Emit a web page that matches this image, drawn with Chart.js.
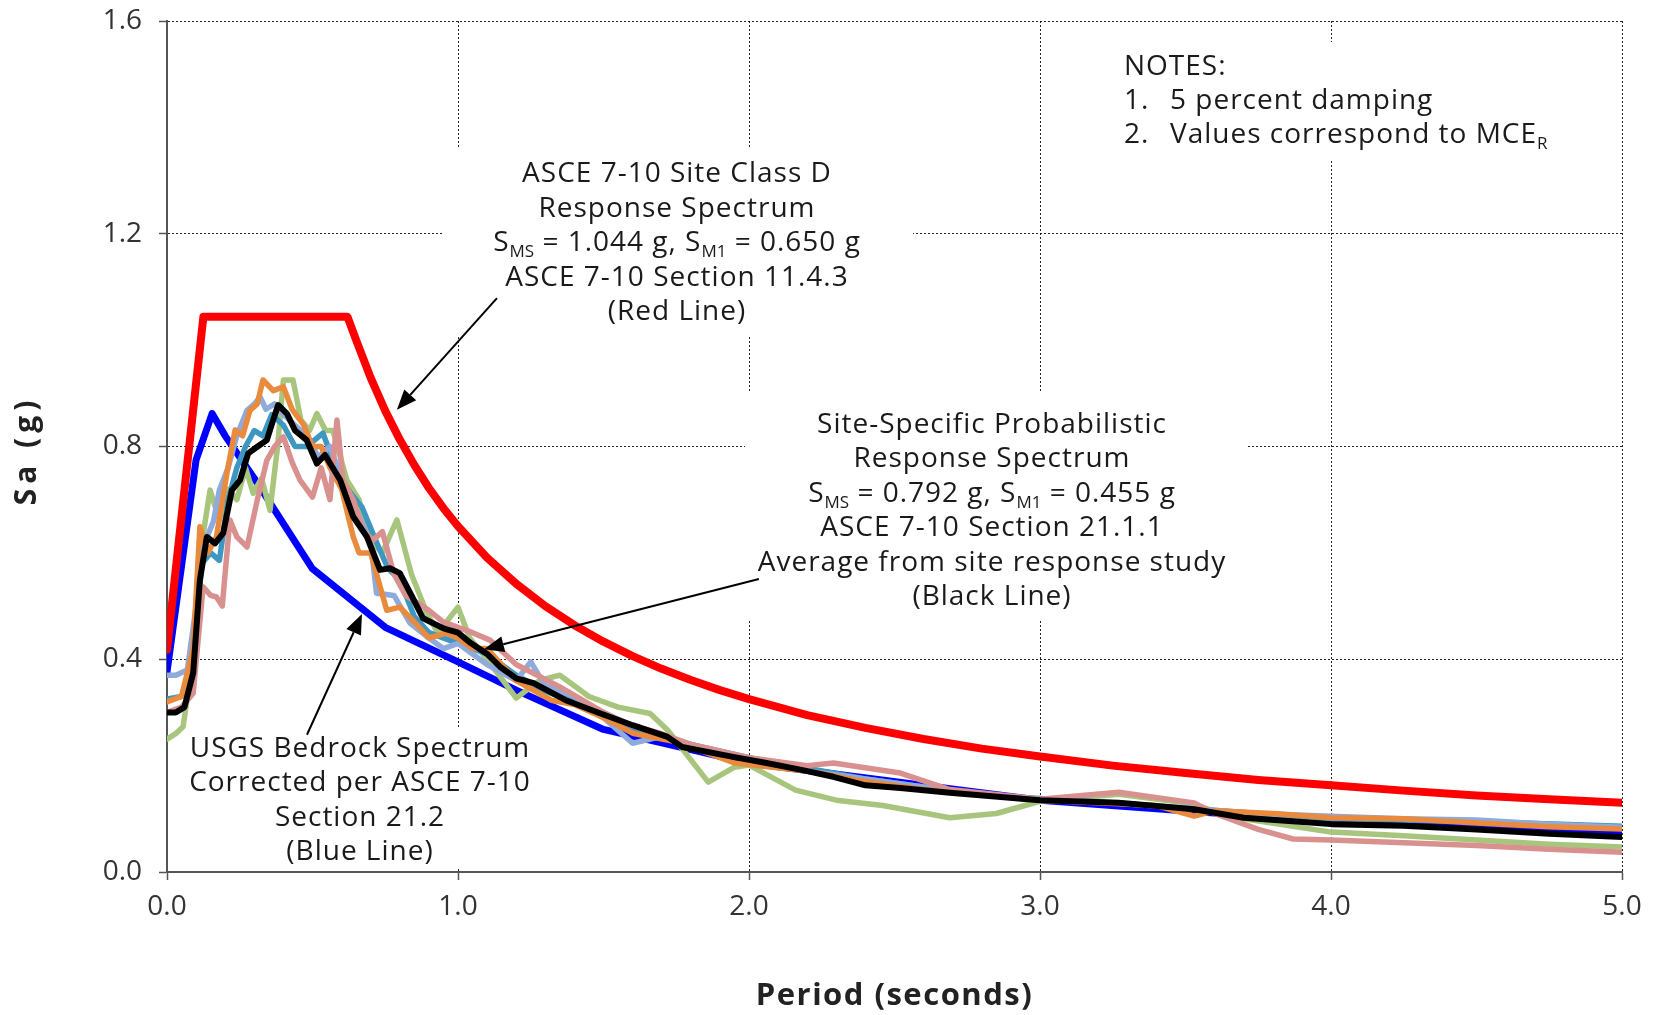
<!DOCTYPE html>
<html>
<head>
<meta charset="utf-8">
<script src="https://cdn.jsdelivr.net/npm/chart.js@4.4.1/dist/chart.umd.min.js"></script>
<style>
body{margin:0;background:#fff;}
#wrap{width:1658px;height:1015px;}
</style>
</head>
<body>
<div id="wrap"><canvas id="spectrumChart" width="1658" height="1015"></canvas></div>
<script>
/* DATA */
const xTicks = [0, 1, 2, 3, 4, 5];
const yTicks = [0, 0.4, 0.8, 1.2, 1.6];

// ASCE 7-10 site class D (red)
const redPeriod = [0, 0.125, 0.62, 0.65, 0.7, 0.75, 0.8, 0.85, 0.9, 0.95, 1.0, 1.1, 1.2, 1.3, 1.4, 1.5, 1.6, 1.7, 1.8, 1.9, 2.0, 2.2, 2.4, 2.6, 2.8, 3.0, 3.25, 3.5, 3.75, 4.0, 4.25, 4.5, 4.75, 5.0];
const redSa = [0.418, 1.044, 1.044, 1.0, 0.929, 0.867, 0.813, 0.765, 0.722, 0.684, 0.65, 0.591, 0.542, 0.5, 0.464, 0.433, 0.406, 0.382, 0.361, 0.342, 0.325, 0.295, 0.271, 0.25, 0.232, 0.217, 0.2, 0.186, 0.173, 0.163, 0.153, 0.144, 0.137, 0.13];

// USGS bedrock (blue)
const bluePeriod = [0, 0.1, 0.155, 0.2, 0.3, 0.5, 0.75, 1.0, 1.2, 1.5, 2.0, 3.0, 4.0, 5.0];
const blueSa = [0.376, 0.775, 0.862, 0.82, 0.74, 0.57, 0.46, 0.395, 0.342, 0.268, 0.205, 0.135, 0.095, 0.075];

// site response average (black)
const avgPeriod = [0, 0.03, 0.06, 0.09, 0.113, 0.137, 0.165, 0.193, 0.223, 0.251, 0.279, 0.309, 0.343, 0.365, 0.382, 0.412, 0.44, 0.48, 0.515, 0.543, 0.595, 0.64, 0.687, 0.732, 0.766, 0.8, 0.84, 0.88, 0.95, 1.0, 1.04, 1.1, 1.144, 1.2, 1.26, 1.37, 1.49, 1.6, 1.72, 1.77, 1.95, 2.06, 2.18, 2.29, 2.4, 2.52, 2.69, 3.0, 3.27, 3.53, 3.7, 4.0, 4.25, 4.5, 4.75, 5.0];
const avgSa = [0.3, 0.3, 0.31, 0.374, 0.549, 0.63, 0.618, 0.637, 0.718, 0.737, 0.787, 0.799, 0.812, 0.85, 0.878, 0.862, 0.83, 0.812, 0.768, 0.784, 0.737, 0.668, 0.63, 0.568, 0.571, 0.562, 0.52, 0.477, 0.458, 0.45, 0.432, 0.41, 0.386, 0.364, 0.355, 0.323, 0.298, 0.276, 0.254, 0.235, 0.216, 0.205, 0.192, 0.179, 0.163, 0.158, 0.149, 0.135, 0.13, 0.118, 0.102, 0.09, 0.087, 0.08, 0.072, 0.066];

// individual records
const orangePeriod = [0, 0.05, 0.09, 0.113, 0.14, 0.17, 0.206, 0.234, 0.26, 0.285, 0.31, 0.33, 0.365, 0.4, 0.43, 0.47, 0.5, 0.53, 0.56, 0.6, 0.64, 0.66, 0.7, 0.755, 0.8, 0.85, 0.9, 0.96, 1.0, 1.05, 1.1, 1.2, 1.32, 1.4, 1.5, 1.6, 1.75, 1.95, 2.2, 2.4, 2.6, 2.8, 3.0, 3.2, 3.4, 3.53, 3.6, 3.8, 4.0, 4.25, 4.5, 4.75, 5.0];
const orangeSa = [0.32, 0.33, 0.42, 0.649, 0.6, 0.63, 0.75, 0.831, 0.82, 0.868, 0.88, 0.925, 0.905, 0.912, 0.87, 0.84, 0.8, 0.8, 0.76, 0.72, 0.63, 0.6, 0.6, 0.492, 0.498, 0.47, 0.44, 0.449, 0.44, 0.42, 0.42, 0.36, 0.323, 0.315, 0.29, 0.261, 0.245, 0.205, 0.19, 0.17, 0.155, 0.145, 0.135, 0.13, 0.125, 0.105, 0.115, 0.11, 0.102, 0.1, 0.092, 0.085, 0.081];

const lightBluePeriod = [0, 0.03, 0.07, 0.1, 0.13, 0.16, 0.18, 0.21, 0.24, 0.275, 0.3, 0.32, 0.34, 0.37, 0.4, 0.44, 0.48, 0.52, 0.56, 0.6, 0.65, 0.7, 0.72, 0.78, 0.835, 0.9, 0.95, 1.0, 1.05, 1.1, 1.2, 1.25, 1.3, 1.4, 1.5, 1.6, 1.7, 1.8, 2.0, 2.2, 2.4, 2.6, 2.8, 3.0, 3.25, 3.5, 3.75, 4.0, 4.25, 4.5, 4.75, 5.0];
const lightBlueSa = [0.37, 0.37, 0.38, 0.5, 0.62, 0.66, 0.718, 0.76, 0.82, 0.868, 0.88, 0.893, 0.87, 0.88, 0.86, 0.84, 0.82, 0.78, 0.8, 0.74, 0.68, 0.62, 0.524, 0.52, 0.468, 0.44, 0.42, 0.43, 0.41, 0.39, 0.36, 0.395, 0.35, 0.33, 0.29, 0.242, 0.255, 0.24, 0.21, 0.19, 0.175, 0.16, 0.145, 0.135, 0.13, 0.12, 0.11, 0.105, 0.1, 0.098, 0.09, 0.084];

const tealPeriod = [0, 0.05, 0.09, 0.12, 0.15, 0.18, 0.21, 0.24, 0.27, 0.3, 0.33, 0.36, 0.4, 0.44, 0.48, 0.536, 0.58, 0.62, 0.67, 0.72, 0.76, 0.8, 0.85, 0.9, 1.0, 1.1, 1.2, 1.3, 1.4, 1.5, 1.6, 1.8, 2.0, 2.2, 2.4, 2.6, 2.8, 3.0, 3.25, 3.5, 3.75, 4.0, 4.5, 5.0];
const tealSa = [0.325, 0.33, 0.4, 0.58, 0.6, 0.586, 0.7, 0.76, 0.8, 0.83, 0.82, 0.86, 0.84, 0.8, 0.8, 0.825, 0.76, 0.72, 0.686, 0.62, 0.57, 0.55, 0.48, 0.45, 0.43, 0.41, 0.37, 0.34, 0.32, 0.3, 0.27, 0.24, 0.215, 0.195, 0.175, 0.16, 0.145, 0.138, 0.13, 0.12, 0.11, 0.1, 0.095, 0.086];

const pinkPeriod = [0, 0.05, 0.09, 0.124, 0.15, 0.17, 0.19, 0.216, 0.24, 0.275, 0.31, 0.343, 0.37, 0.4, 0.43, 0.457, 0.5, 0.53, 0.56, 0.584, 0.605, 0.64, 0.675, 0.708, 0.74, 0.78, 0.82, 0.9, 0.95, 1.0, 1.05, 1.11, 1.2, 1.35, 1.5, 1.6, 1.7, 1.8, 2.0, 2.2, 2.29, 2.52, 2.69, 3.0, 3.27, 3.53, 3.6, 3.75, 3.87, 4.0, 4.25, 4.5, 4.75, 5.0];
const pinkSa = [0.3, 0.31, 0.336, 0.536, 0.52, 0.517, 0.5, 0.662, 0.63, 0.611, 0.699, 0.774, 0.8, 0.818, 0.77, 0.737, 0.705, 0.76, 0.7, 0.85, 0.737, 0.7, 0.64, 0.624, 0.64, 0.56, 0.52, 0.492, 0.47, 0.46, 0.45, 0.436, 0.39, 0.348, 0.3, 0.275, 0.26, 0.24, 0.215, 0.2, 0.205, 0.186, 0.155, 0.137, 0.15, 0.13, 0.11, 0.08, 0.062, 0.06, 0.055, 0.05, 0.043, 0.037];

const greenPeriod = [0, 0.03, 0.055, 0.09, 0.12, 0.148, 0.18, 0.21, 0.24, 0.27, 0.296, 0.325, 0.354, 0.38, 0.4, 0.433, 0.46, 0.49, 0.515, 0.545, 0.57, 0.618, 0.66, 0.7, 0.74, 0.79, 0.84, 0.893, 0.93, 0.96, 1.0, 1.04, 1.1, 1.2, 1.28, 1.35, 1.45, 1.55, 1.66, 1.72, 1.86, 1.95, 2.0, 2.16, 2.3, 2.46, 2.69, 2.85, 3.0, 3.27, 3.5, 3.7, 4.0, 4.25, 4.5, 4.75, 5.0];
const greenSa = [0.25, 0.26, 0.273, 0.4, 0.62, 0.718, 0.662, 0.72, 0.7, 0.76, 0.712, 0.74, 0.68, 0.8, 0.925, 0.925, 0.85, 0.83, 0.862, 0.83, 0.83, 0.737, 0.7, 0.62, 0.6, 0.662, 0.56, 0.487, 0.45, 0.47, 0.498, 0.44, 0.4, 0.327, 0.36, 0.37, 0.33, 0.31, 0.298, 0.267, 0.169, 0.197, 0.201, 0.154, 0.135, 0.125, 0.102, 0.11, 0.133, 0.146, 0.13, 0.1, 0.075, 0.068, 0.06, 0.052, 0.047];

function pts(p, s){
    return p.map((x, i) => ({x: x, y: s[i]}));
}

/* ANNOTATIONS (pixel layout) */
const FONT = "'Open Sans', 'Noto Sans', sans-serif";
const maskBoxes = [
    [442, 147, 471, 190],
    [745, 393, 503, 227],
    [185, 727, 349, 142],
    [1110, 42, 460, 117]
];

const textBlocks = [
    {cx: 677, base: 182, step: 34.5, lines: [
        [["ASCE 7-10 Site Class D"]],
        [["Response Spectrum"]],
        [["S"], ["MS", 1], [" = 1.044 g, S"], ["M1", 1], [" = 0.650 g"]],
        [["ASCE 7-10 Section 11.4.3"]],
        [["(Red Line)"]]
    ]},
    {cx: 992, base: 433, step: 34.4, lines: [
        [["Site-Specific Probabilistic"]],
        [["Response Spectrum"]],
        [["S"], ["MS", 1], [" = 0.792 g, S"], ["M1", 1], [" = 0.455 g"]],
        [["ASCE 7-10 Section 21.1.1"]],
        [["Average from site response study"]],
        [["(Black Line)"]]
    ]},
    {cx: 360, base: 757, step: 34.4, lines: [
        [["USGS Bedrock Spectrum"]],
        [["Corrected per ASCE 7-10"]],
        [["Section 21.2"]],
        [["(Blue Line)"]]
    ]}
];

// arrows in data units [tailT, tailSa, tipT, tipSa]
const arrows = [
    [1.134, 1.079, 0.79, 0.869],
    [2.034, 0.551, 1.089, 0.419],
    [0.481, 0.258, 0.67, 0.485]
];

function setFont(ctx, sub){
    ctx.font = sub ? "17px " + FONT : "28px " + FONT;
    ctx.letterSpacing = sub ? "0px" : "1px";
}

function drawRich(ctx, parts, cx, base){
    let w = 0;
    parts.forEach(p => {
        setFont(ctx, p[1]);
        w += ctx.measureText(p[0]).width;
    });
    let x = cx - w / 2;
    parts.forEach(p => {
        setFont(ctx, p[1]);
        ctx.fillText(p[0], x, base + (p[1] ? 6 : 0));
        x += ctx.measureText(p[0]).width;
    });
}

const notesPlugin = {
    id: 'notesPlugin',
    beforeDatasetsDraw(chart){
        const ctx = chart.ctx;
        ctx.save();
        ctx.fillStyle = '#fff';
        maskBoxes.forEach(b => ctx.fillRect(b[0], b[1], b[2], b[3]));
        ctx.restore();
    },
    afterDatasetsDraw(chart){
        const ctx = chart.ctx;
        const xs = chart.scales.x, ys = chart.scales.y;
        const area = chart.chartArea;
        ctx.save();
        ctx.fillStyle = '#1a1a1a';
        ctx.textAlign = 'left';
        ctx.textBaseline = 'alphabetic';

        textBlocks.forEach(b => {
            b.lines.forEach((ln, i) => drawRich(ctx, ln, b.cx, b.base + i * b.step));
        });

        // notes
        setFont(ctx, 0);
        ctx.fillText("NOTES:", 1124, 75);
        ctx.fillText("1.", 1124, 109);
        ctx.fillText("5 percent damping", 1170, 109);
        ctx.fillText("2.", 1124, 143);
        ctx.fillText("Values correspond to MCE", 1170, 143);
        let mw = ctx.measureText("Values correspond to MCE").width;
        setFont(ctx, 1);
        ctx.fillText("R", 1170 + mw, 149);

        // axis titles
        ctx.fillStyle = '#222';
        ctx.textAlign = 'center';
        ctx.textBaseline = 'middle';
        ctx.font = "bold 31px " + FONT;
        ctx.letterSpacing = "1.5px";
        ctx.fillText("Period (seconds)", (area.left + area.right) / 2, 996);
        ctx.save();
        ctx.translate(27, (area.top + area.bottom) / 2 + 4);
        ctx.rotate(-Math.PI / 2);
        ctx.font = "bold 30px " + FONT;
        ctx.letterSpacing = "5px";
        ctx.fillText("Sa (g)", 0, 0);
        ctx.restore();
        ctx.letterSpacing = "0px";

        // arrows
        ctx.strokeStyle = '#000';
        ctx.fillStyle = '#000';
        ctx.lineWidth = 2;
        arrows.forEach(a => {
            const x1 = xs.getPixelForValue(a[0]), y1 = ys.getPixelForValue(a[1]);
            const x2 = xs.getPixelForValue(a[2]), y2 = ys.getPixelForValue(a[3]);
            const ang = Math.atan2(y2 - y1, x2 - x1);
            const hl = 20, hw = 8;
            const bx = x2 - hl * Math.cos(ang), by = y2 - hl * Math.sin(ang);
            ctx.beginPath();
            ctx.moveTo(x1, y1);
            ctx.lineTo(bx, by);
            ctx.stroke();
            ctx.beginPath();
            ctx.moveTo(x2, y2);
            ctx.lineTo(bx + hw * Math.sin(ang), by - hw * Math.cos(ang));
            ctx.lineTo(bx - hw * Math.sin(ang), by + hw * Math.cos(ang));
            ctx.closePath();
            ctx.fill();
        });
        ctx.restore();
    }
};

/* CHART */
function lineSet(label, p, s, color, width, order){
    return {
        label: label,
        data: pts(p, s),
        borderColor: color,
        backgroundColor: color,
        borderWidth: width,
        pointRadius: 0,
        tension: 0,
        borderJoinStyle: 'round',
        borderCapStyle: 'round',
        order: order
    };
}

new Chart(document.getElementById("spectrumChart"), {
    type: 'line',
    data: {
        datasets: [
            lineSet("ASCE 7-10 Site Class D", redPeriod, redSa, "#FF0000", 8, 0),
            lineSet("Site-Specific Average", avgPeriod, avgSa, "#000000", 6, 1),
            lineSet("Record 1", orangePeriod, orangeSa, "#E98A3D", 5.5, 3),
            lineSet("Record 2", lightBluePeriod, lightBlueSa, "#8FAADC", 5.5, 4),
            lineSet("Record 3", tealPeriod, tealSa, "#3D97C0", 5.5, 5),
            lineSet("Record 4", pinkPeriod, pinkSa, "#D9918F", 5.5, 2),
            lineSet("Record 5", greenPeriod, greenSa, "#A8C57D", 5.5, 6),
            lineSet("USGS Bedrock", bluePeriod, blueSa, "#0000FF", 7, 9)
        ]
    },
    options: {
        responsive: false,
        animation: false,
        layout: {
            padding: {top: 21, right: 36, left: 0, bottom: 0}
        },
        plugins: {
            legend: {display: false},
            tooltip: {enabled: false}
        },
        scales: {
            x: {
                type: 'linear',
                min: 0,
                max: 5,
                afterBuildTicks: s => { s.ticks = xTicks.map(v => ({value: v})); },
                afterFit: s => { s.height = 143; },
                ticks: {
                    callback: v => v.toFixed(1),
                    font: {family: FONT, size: 28},
                    color: '#333',
                    padding: 10,
                    maxRotation: 0
                },
                grid: {
                    color: 'rgba(0,0,0,0.85)',
                    lineWidth: 1,
                    tickLength: 8,
                    tickColor: '#555',
                    tickWidth: 1.5
                },
                border: {display: true, color: '#555', width: 2, dash: [2, 2]}
            },
            y: {
                min: 0,
                max: 1.6,
                afterBuildTicks: s => { s.ticks = yTicks.map(v => ({value: v})); },
                afterFit: s => { s.width = 167; s.paddingTop = 0; s.paddingBottom = 0; },
                ticks: {
                    callback: v => v.toFixed(1),
                    font: {family: FONT, size: 28},
                    color: '#333',
                    padding: 17
                },
                grid: {
                    color: 'rgba(0,0,0,0.85)',
                    lineWidth: 1,
                    tickLength: 8,
                    tickColor: '#555',
                    tickWidth: 1.5
                },
                border: {display: true, color: '#555', width: 2, dash: [2, 2]}
            }
        }
    },
    plugins: [notesPlugin]
});
</script>
</body>
</html>
